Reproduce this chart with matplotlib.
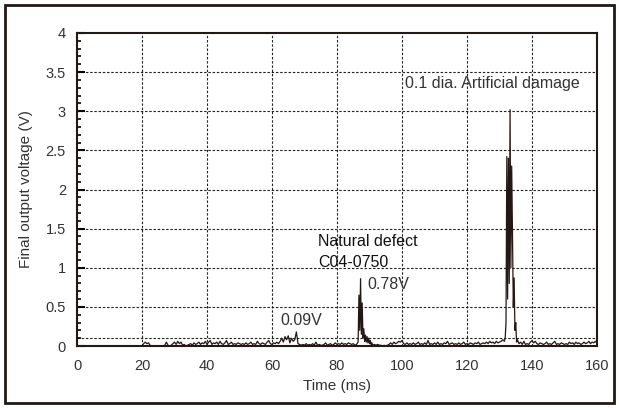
import numpy as np
import matplotlib
matplotlib.use("Agg")
import matplotlib.pyplot as plt
from matplotlib.patches import Rectangle

plt.rcParams['font.family'] = ['Liberation Sans', 'DejaVu Sans']

# ---- data (Time in ms, voltage in V) ----
# baseline before signal starts
base_t = [0.0, 19.5]
base_v = [0.0, 0.0]

# noise + small bump, sampled every 0.5 ms from 20.0 ms
seg1_start, seg1_step = 20.0, 0.5
seg1_v = [0.0, 0.03, 0.05, 0.03, 0.04, 0.01, 0, 0, 0, 0, 0, 0, 0, 0, 0.01, 0.05, 0.01, 0,
          0.01, 0.03, 0.05, 0.02, 0.06, 0.03, 0.05, 0.01, 0.02, 0, 0.01, 0.02, 0.03, 0.01,
          0.04, 0.02, 0.03, 0.05, 0.02, 0.04, 0.03, 0.06, 0.02, 0.05, 0.07, 0.02, 0.04, 0.03,
          0.05, 0.02, 0.06, 0.03, 0.02, 0.04, 0.07, 0.02, 0.03, 0.05, 0.02, 0.03, 0.02, 0.04,
          0.03, 0.02, 0.03, 0.02, 0.04, 0.02, 0.03, 0.05, 0.02, 0.03, 0.02, 0.06, 0.03, 0.02,
          0.04, 0.03, 0.02, 0.05, 0.07, 0.03, 0.02, 0.04, 0.03, 0.05,
          0.03, 0.06, 0.10, 0.05, 0.12, 0.08, 0.13, 0.04, 0.10, 0.06, 0.08, 0.18, 0.03, 0.02,
          0.01, 0.02, 0.01, 0.03, 0.01, 0.02, 0.01, 0.03, 0.01, 0.05, 0.01, 0.02, 0.01, 0.01,
          0.02, 0.04, 0.01, 0.02, 0.03, 0.01, 0.02, 0.04, 0.02, 0.03, 0.02, 0.04, 0.02, 0.03,
          0.02, 0.04, 0.03, 0.02, 0.03, 0.01, 0.02, 0.05]

# natural defect peak, sampled every 0.25 ms
peak1_start, peak1_step = 86.75, 0.25
peak1_v = [0.65, 0.20, 0.86, 0.15, 0.55, 0.10, 0.22, 0.06, 0.14, 0.05, 0.12, 0.04, 0.10,
           0.03, 0.07, 0.02, 0.04, 0.01]

# noise, every 0.5 ms
seg3_start, seg3_step = 91.5, 0.5
seg3_v = [0.02, 0.01, 0.02, 0.01, 0.01, 0.0, 0.01, 0.0, 0.01, 0.02, 0.04, 0.02, 0.05, 0.03,
          0.04, 0.06, 0.05, 0.07, 0.03, 0.02, 0.04, 0.02, 0.03, 0.02, 0.04, 0.02, 0.03, 0.05,
          0.02, 0.03, 0.02, 0.04, 0.02, 0.07, 0.02, 0.03, 0.02, 0.04, 0.02, 0.05, 0.02, 0.03,
          0.02, 0.04, 0.03, 0.06, 0.02, 0.03, 0.04, 0.02, 0.03, 0.02, 0.04, 0.02, 0.03, 0.05,
          0.02, 0.03, 0.02, 0.04, 0.03, 0.02, 0.04, 0.03, 0.05, 0.02, 0.03, 0.04, 0.03, 0.05,
          0.03, 0.06, 0.04, 0.05, 0.03, 0.06, 0.04, 0.05, 0.06, 0.08, 0.06]

# artificial damage peak, every 0.25 ms
peak2_start, peak2_step = 131.75, 0.25
peak2_v = [0.10, 0.30, 2.42, 0.60, 2.40, 0.80, 3.02, 1.00, 2.30, 1.40, 0.50, 0.87, 0.20,
           0.30, 0.05, 0.08]

# noise, every 0.5 ms
seg5_start, seg5_step = 136.0, 0.5
seg5_v = [0.03, 0.05, 0.02, 0.06, 0.02, 0.03, 0.02, 0.05, 0.07, 0.04, 0.06, 0.03, 0.02,
          0.04, 0.03, 0.02, 0.03, 0.05, 0.02, 0.03, 0.02, 0.04, 0.06, 0.02, 0.03, 0.02,
          0.04, 0.03, 0.02, 0.03, 0.02, 0.05, 0.03, 0.04, 0.02, 0.05, 0.03, 0.04, 0.02,
          0.03, 0.05, 0.03, 0.04, 0.06, 0.03, 0.05, 0.04, 0.06, 0.04]

threshold = 0.1
x_ticks = [0, 20, 40, 60, 80, 100, 120, 140, 160]
y_ticks = [0, 0.5, 1, 1.5, 2, 2.5, 3, 3.5, 4]
y_tick_labels = ['0', '0.5', '1', '1.5', '2', '2.5', '3', '3.5', '4']


def seg(start, step, vals):
    return start + step * np.arange(len(vals)), np.asarray(vals, float)

parts = [(np.asarray(base_t), np.asarray(base_v)),
         seg(seg1_start, seg1_step, seg1_v),
         seg(peak1_start, peak1_step, peak1_v),
         seg(seg3_start, seg3_step, seg3_v),
         seg(peak2_start, peak2_step, peak2_v),
         seg(seg5_start, seg5_step, seg5_v)]
t = np.concatenate([p[0] for p in parts])
v = np.concatenate([p[1] for p in parts])
order = np.argsort(t, kind='stable')
t, v = t[order], v[order]

fig = plt.figure(figsize=(6.19, 4.08), dpi=100)
ax = fig.add_axes([77 / 619, 62 / 408, 520 / 619, 313 / 408])

# grid
grid_kw = dict(color='#222222', lw=0.8, ls=(0, (2.2, 1.6)), zorder=1)
for x in x_ticks[1:-1]:
    ax.axvline(x, **grid_kw)
for y in y_ticks[1:-1]:
    ax.axhline(y, **grid_kw)
ax.axhline(threshold, **grid_kw)

ax.plot(t, v, color='#231815', lw=0.9, zorder=3)

ax.set_xlim(0, 160)
ax.set_ylim(0, 4)
ax.set_xticks(x_ticks)
ax.set_yticks(y_ticks)
ax.set_yticklabels(y_tick_labels)
ax.set_yticks(np.arange(0, 4.01, 0.1), minor=True)
ax.tick_params(axis='y', which='major', direction='in', length=6, width=1.5,
               labelsize=10.5, labelcolor='#333333', pad=8)
ax.tick_params(axis='y', which='minor', direction='in', length=3, width=1.2)
ax.tick_params(axis='x', which='major', length=0, labelsize=10.5,
               labelcolor='#333333', pad=9)
for s in ax.spines.values():
    s.set_linewidth(1.5)
    s.set_color('#231815')

ax.set_xlabel('Time (ms)', fontsize=11, color='#333333', labelpad=5)
ax.set_ylabel('Final output voltage (V)', fontsize=11, color='#333333', labelpad=9)

ax.text(101, 3.36, '0.1 dia. Artificial damage', fontsize=11.5, color='#333333', va='center')
ax.text(74.2, 1.34, 'Natural defect', fontsize=11.5, color='#111111', va='center')
ax.text(74.2, 1.07, 'C04-0750', fontsize=11.5, color='#111111', va='center')
ax.text(89.2, 0.78, '0.78V', fontsize=11.5, color='#333333', va='center')
ax.text(62.5, 0.33, '0.09V', fontsize=11.5, color='#333333', va='center')

# outer frame
fig.patches.append(Rectangle((5 / 619, 5 / 408), 609 / 619, 398 / 408,
                             transform=fig.transFigure, fill=False,
                             edgecolor='#231815', lw=2))

fig.savefig('out.png', dpi=100)
